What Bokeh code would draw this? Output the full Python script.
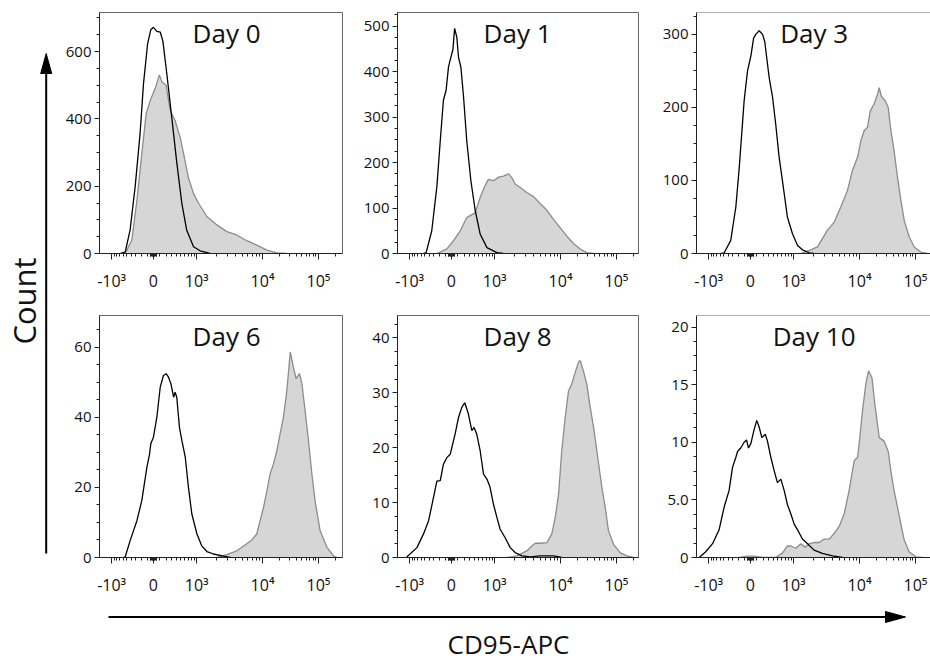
import numpy as np
from bokeh.plotting import figure
from bokeh.layouts import row, column
from bokeh.models import Range1d, FixedTicker, SingleIntervalTicker, Span
from bokeh.core.properties import value
from bokeh.embed import file_html
from bokeh.resources import INLINE

FONT = "Open Sans"

# ---------------- data ----------------
panel_titles = ["Day 0", "Day 1", "Day 3", "Day 6", "Day 8", "Day 10"]
y_max = [716, 530, 330, 69, 44.1, 21.0]
y_step = [200, 100, 100, 20, 10, 5]

# x tick values (CD95-APC fluorescence) and their labels
x_tick_values = [-1000, 0, 1000, 10000, 100000]
x_tick_labels = ["-10³", "0", "10³", "10⁴", "10⁵"]
x_minor_values = ([-v for v in range(100, 1000, 100)] + [-50, -40, -30, -20, -10, 10, 20, 30, 40, 50]
                  + list(range(100, 1000, 100)) + list(range(2000, 10000, 1000))
                  + list(range(20000, 100000, 10000)) + [200000])

# histograms: x in biexponential display channel (0-1000), y = count
# black line = control, grey fill = CD95 stained
day0_ctrl_ch = [85, 106, 126, 147, 167, 181, 198, 211, 222, 236, 250, 261, 277, 298, 318, 339, 359, 387, 414, 455]
day0_ctrl_n = [0, 5, 70, 200, 356, 504, 623, 665, 672, 660, 658, 630, 534, 400, 270, 148, 69, 20, 8, 0]
day0_cd95_ch = [106, 133, 154, 174, 192, 209, 229, 246, 257, 274, 291, 311, 332, 348, 366, 387, 407, 442, 483, 524, 565, 606, 647, 689, 730, 771]
day0_cd95_n = [0, 40, 158, 296, 415, 455, 490, 530, 510, 500, 425, 395, 345, 290, 225, 178, 150, 110, 85, 65, 55, 38, 25, 10, 2, 0]

day1_ctrl_ch = [105, 118, 141, 162, 176, 189, 200, 210, 217, 228, 235, 244, 251, 261, 272, 285, 302, 320, 340, 368, 409, 436]
day1_ctrl_n = [0, 2, 50, 147, 248, 337, 359, 411, 426, 448, 495, 476, 432, 409, 343, 248, 160, 94, 43, 13, 2, 0]
day1_cd95_ch = [162, 203, 230, 258, 285, 320, 340, 357, 374, 395, 416, 436, 457, 470, 484, 505, 532, 560, 587, 615, 642, 669, 697, 724, 752, 779, 807]
day1_cd95_n = [0, 10, 28, 50, 79, 90, 123, 145, 163, 160, 168, 170, 175, 167, 153, 145, 134, 125, 110, 95, 75, 57, 38, 22, 10, 2, 0]

day3_ctrl_ch = [100, 114, 141, 162, 176, 196, 210, 224, 235, 244, 258, 272, 281, 289, 299, 313, 326, 340, 361, 374, 395, 416, 436, 464, 484]
day3_ctrl_n = [0, 1, 18, 64, 118, 209, 250, 271, 295, 300, 305, 300, 290, 268, 241, 214, 177, 132, 82, 50, 27, 11, 5, 1, 0]
day3_cd95_ch = [429, 470, 498, 539, 567, 594, 621, 642, 663, 676, 690, 704, 715, 731, 745, 752, 761, 775, 789, 800, 813, 827, 841, 855, 875, 896, 923, 951]
day3_cd95_n = [0, 5, 9, 32, 43, 64, 86, 114, 132, 154, 168, 173, 195, 205, 218, 227, 215, 210, 200, 168, 141, 105, 73, 45, 23, 9, 2, 0]

day6_ctrl_ch = [99, 106, 126, 154, 174, 195, 206, 211, 222, 236, 250, 263, 274, 284, 294, 305, 311, 318, 329, 339, 353, 366, 380, 401, 421, 442, 469, 510, 538]
day6_ctrl_n = [0, 0.2, 4.8, 10.5, 16.2, 25.7, 29.5, 32.4, 34.3, 40, 48.6, 51.9, 52.4, 51.4, 49.5, 45.7, 47.1, 45.7, 37.1, 33.3, 28.6, 20, 12.4, 6.7, 3.3, 1.7, 1, 0.4, 0]
day6_cd95_ch = [483, 524, 565, 593, 627, 647, 661, 675, 689, 702, 716, 730, 743, 757, 771, 785, 798, 809, 823, 833, 846, 860, 874, 887, 908, 936, 963, 977]
day6_cd95_n = [0, 0.8, 1.9, 3.3, 5, 6.7, 10.5, 14.3, 19, 23.8, 26.7, 30.5, 35.2, 40, 47.6, 58.6, 54.3, 51, 52.4, 49.5, 41.9, 33.3, 23.8, 16.2, 7.6, 2.9, 0.5, 0]

day8_ctrl_ch = [38, 80, 107, 128, 148, 162, 176, 189, 203, 217, 224, 237, 251, 265, 277, 292, 306, 315, 326, 340, 354, 368, 381, 395, 409, 422, 443, 464, 484, 512, 546, 587, 642, 676]
day8_ctrl_n = [0.1, 1.8, 4.3, 6.7, 10.9, 13.9, 14, 17, 18.2, 18.8, 20.1, 22.5, 25.5, 27.4, 28.2, 26.1, 23.1, 23.7, 22.5, 19.5, 15.2, 14.3, 12.8, 9.7, 7.3, 5.2, 3.6, 1.8, 0.9, 0.3, 0.1, 0.3, 0.3, 0]
day8_cd95_ch = [450, 491, 532, 553, 567, 587, 615, 635, 649, 663, 676, 690, 704, 717, 731, 745, 752, 765, 779, 793, 807, 820, 841, 855, 868, 889, 916, 944, 971]
day8_cd95_n = [0, 0.3, 1.2, 2.1, 2.6, 2.6, 2.7, 4.3, 7.3, 11.6, 19.5, 25.5, 30.4, 31.6, 33.7, 35.6, 35.9, 34, 31.6, 27.4, 23.7, 19.5, 12.8, 9.1, 4.9, 2.4, 0.9, 0.3, 0]

day10_ctrl_ch = [11, 38, 66, 93, 114, 134, 148, 162, 169, 182, 196, 206, 214, 224, 237, 248, 258, 269, 283, 292, 306, 320, 333, 347, 361, 374, 388, 402, 416, 436, 457, 484, 518, 560, 601]
day10_ctrl_n = [0, 0.5, 1.2, 2.4, 4.4, 5.8, 7.8, 8.7, 9.2, 9.5, 10, 10.2, 9.5, 9.9, 11.1, 11.9, 11.3, 10.4, 10.7, 10.1, 8.7, 7.5, 6.5, 6.8, 5.8, 4.6, 3.8, 2.9, 2.4, 1.6, 1.2, 0.64, 0.35, 0.15, 0]
day10_cd95_ch = [176, 210, 237, 272, 326, 354, 374, 388, 409, 429, 447, 464, 484, 505, 525, 546, 567, 587, 608, 628, 649, 663, 672, 683, 697, 708, 722, 734, 752, 772, 789, 800, 813, 827, 841, 855, 875, 903, 930]
day10_cd95_n = [0, 0.12, 0.12, 0, 0, 0.4, 1.0, 1.0, 0.8, 1.2, 0.9, 1.2, 1.3, 1.3, 1.6, 1.6, 2.1, 2.7, 3.8, 5.8, 8.4, 8.7, 10.4, 12.7, 15.1, 16.2, 15.6, 13.3, 10.4, 10.1, 9.2, 7.5, 5.8, 4.4, 2.9, 1.5, 0.5, 0.06, 0]

ctrl_ch = [day0_ctrl_ch, day1_ctrl_ch, day3_ctrl_ch, day6_ctrl_ch, day8_ctrl_ch, day10_ctrl_ch]
ctrl_n = [day0_ctrl_n, day1_ctrl_n, day3_ctrl_n, day6_ctrl_n, day8_ctrl_n, day10_ctrl_n]
cd95_ch = [day0_cd95_ch, day1_cd95_ch, day3_cd95_ch, day6_cd95_ch, day8_cd95_ch, day10_cd95_ch]
cd95_n = [day0_cd95_n, day1_cd95_n, day3_cd95_n, day6_cd95_n, day8_cd95_n, day10_cd95_n]

# ---------------- biexponential display scale ----------------
ANCHOR_V = np.array([-1000.0, 0.0, 1000.0, 1e4, 1e5, 262144.0])
ANCHOR_D = np.array([50.0, 222.0, 400.0, 671.0, 901.0, 1000.0])


def biex(v):
    s = np.arcsinh(np.asarray(v, float) / 400.0)
    return np.interp(s, np.arcsinh(ANCHOR_V / 400.0), ANCHOR_D)


major_pos = [round(float(x), 3) for x in biex(x_tick_values)]
minor_pos = [round(float(x), 3) for x in biex(x_minor_values)]

# ---------------- layout ----------------
FRAME_W = [243, 241, 234]
BL = [44, 53, 56]
BR = [2, 2, 0]
FRAME_H = [241, 242]
BT = [12, 12]
BB = [50, 43]
TITLE_X = [523, 494, 484]
TITLE_DROP = 20.5   # px from frame top to title anchor

AX_COL = "#222222"


def make_panel(i):
    c, r = i % 3, i // 3
    fw, fh = FRAME_W[c], FRAME_H[r]
    p = figure(width=BL[c] + fw + BR[c], height=BT[r] + fh + BB[r],
               x_range=Range1d(0, 1000.0 * fw / 243.0), y_range=Range1d(0, y_max[i]),
               output_backend="svg", toolbar_location=None, title=None,
               min_border_left=BL[c], min_border_right=BR[c],
               min_border_top=BT[r], min_border_bottom=BB[r])
    p.background_fill_color = "white"
    p.border_fill_color = "white"
    p.xgrid.visible = False
    p.ygrid.visible = False
    if c == 2:
        p.outline_line_color = None
        p.add_layout(Span(location=y_max[i], dimension="width", line_color="#666666", line_width=1))
    else:
        p.outline_line_color = "#666666"
        p.outline_line_width = 1

    p.varea(x=cd95_ch[i], y1=0, y2=cd95_n[i], fill_color="#d6d6d6")
    p.line(cd95_ch[i], cd95_n[i], line_color="#8c8c8c", line_width=1.3)
    p.line(ctrl_ch[i], ctrl_n[i], line_color="black", line_width=1.3)

    p.text(x=[TITLE_X[c]], y=[y_max[i] * (1 - TITLE_DROP / FRAME_H[r])], text=[panel_titles[i]],
           text_font=value(FONT), text_font_size="26px", text_align="center",
           text_baseline="alphabetic", text_color="#111111")

    xa = p.xaxis[0]
    xa.ticker = FixedTicker(ticks=major_pos, minor_ticks=minor_pos)
    xa.major_label_overrides = {mp: lab for mp, lab in zip(major_pos, x_tick_labels)}
    xa.major_tick_out = 6
    xa.minor_tick_out = 3
    xa.major_label_standoff = 10
    xa.major_label_text_font_size = "16px"

    ya = p.yaxis[0]
    ya.ticker = SingleIntervalTicker(interval=y_step[i], num_minor_ticks=4)
    if i == 5:
        ya.major_label_overrides = {0: "0", 5: "5.0", 10: "10", 15: "15", 20: "20"}
    ya.major_tick_out = 5
    ya.minor_tick_out = 3
    ya.major_label_standoff = 3
    ya.major_label_text_font_size = "15px"

    for ax in (xa, ya):
        ax.major_tick_in = 0
        ax.minor_tick_in = 0
        ax.axis_line_color = AX_COL
        ax.major_tick_line_color = AX_COL
        ax.minor_tick_line_color = AX_COL
        ax.major_label_text_font = FONT
        ax.major_label_text_color = "#111111"
    return p


panels = [make_panel(i) for i in range(6)]

# left strip with "Count" arrow
side = figure(width=55, height=664, x_range=Range1d(0, 55), y_range=Range1d(0, 664),
              output_backend="svg", toolbar_location=None, title=None,
              x_axis_location=None, y_axis_location=None, min_border=0)
side.grid.visible = False
side.outline_line_color = None
side.segment(x0=[45.7], y0=[664 - 553], x1=[45.7], y1=[664 - 70], line_color="black", line_width=2)
side.patch(x=[40.2, 51.2, 45.7], y=[664 - 73, 664 - 73, 664 - 53], fill_color="black", line_color="black")
side.text(x=[23], y=[664 - 300.5], text=["Count"], angle=np.pi / 2, text_align="center",
          text_baseline="middle", text_font=value(FONT), text_font_size="31px", text_color="#111111")

# bottom strip with "CD95-APC" arrow
bottom = figure(width=875, height=64, x_range=Range1d(55, 930), y_range=Range1d(0, 64),
                output_backend="svg", toolbar_location=None, title=None,
                x_axis_location=None, y_axis_location=None, min_border=0)
bottom.grid.visible = False
bottom.outline_line_color = None
bottom.segment(x0=[108], y0=[47.5], x1=[888], y1=[47.5], line_color="black", line_width=2)
bottom.patch(x=[885, 885, 905], y=[53, 42, 47.5], fill_color="black", line_color="black")
bottom.text(x=[508], y=[21], text=["CD95-APC"], text_align="center", text_baseline="alphabetic",
            text_font=value(FONT), text_font_size="26px", text_color="#111111")

layout = row(side, column(row(*panels[:3]), row(*panels[3:]), bottom))

open("out.html", "w").write(file_html(layout, INLINE))
